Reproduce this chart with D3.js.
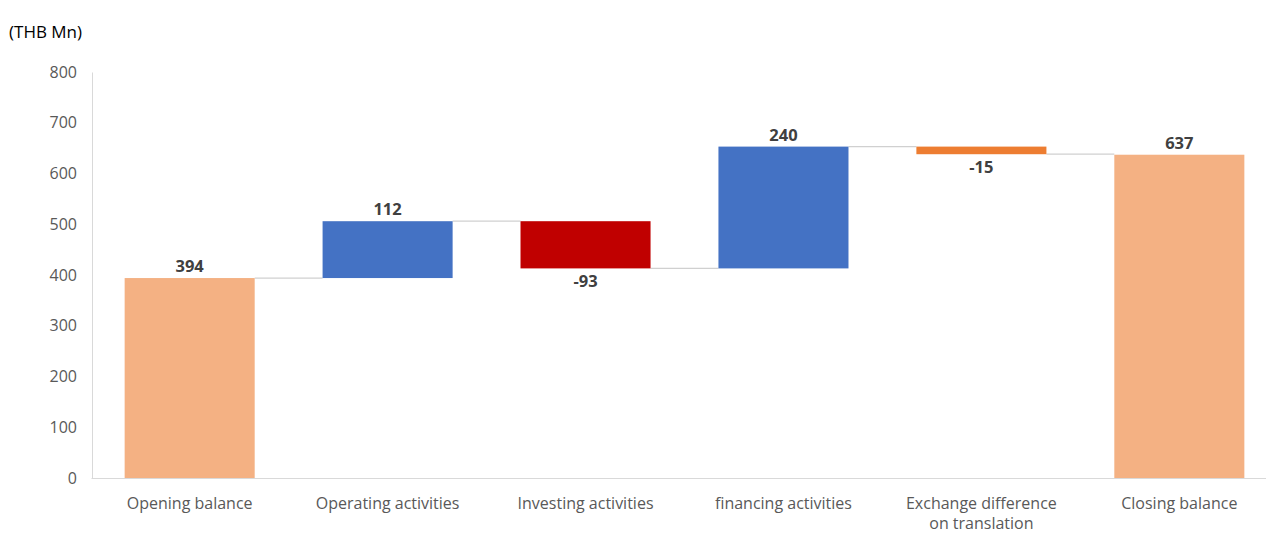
<!DOCTYPE html>
<html>
<head>
<meta charset="utf-8">
<script src="https://cdn.jsdelivr.net/npm/d3@7"></script>
<style>
  body { margin: 0; background: #fff; }
  text { font-family: "Open Sans", sans-serif; }
</style>
</head>
<body>
<div id="chart"></div>
<script>
// waterfall data (THB Mn)
const categories = ["Opening balance", "Operating activities", "Investing activities",
                    "financing activities", "Exchange difference\non translation", "Closing balance"];
const changes = [394, 112, -93, 240, -15, 637];
const kinds = ["total", "up", "down", "up", "down2", "total"];
const yTicks = [0, 100, 200, 300, 400, 500, 600, 700, 800];

const colors = { total: "#f4b183", up: "#4472c4", down: "#c00000", down2: "#ed7d31" };

const W = 1266, H = 536;

// build start/end for every step
let running = 0;
const bars = categories.map((c, i) => {
  let start, end;
  if (kinds[i] === "total") { start = 0; end = changes[i]; running = changes[i]; }
  else { start = running; end = running + changes[i]; running = end; }
  return { cat: c, value: changes[i], kind: kinds[i], start, end };
});

const svg = d3.select("#chart").append("svg")
  .attr("width", W).attr("height", H);

const x = d3.scaleBand().domain(categories).range([91, 1278]).paddingInner(0.343).paddingOuter(0.17);
const y = d3.scaleLinear().domain([0, 800]).range([478, 72]);

svg.append("text")
  .attr("x", 9).attr("y", 38)
  .attr("font-size", 17).attr("fill", "#000")
  .text("(THB Mn)");

// y axis
const yAxis = svg.append("g")
  .attr("transform", "translate(92,0)")
  .call(d3.axisLeft(y).tickValues(yTicks).tickSize(0).tickPadding(15));
yAxis.select(".domain").attr("stroke", "#d9d9d9");
yAxis.selectAll("text").attr("font-size", 16).attr("fill", "#595959");

// x axis
const xAxis = svg.append("g")
  .attr("transform", "translate(0,478)")
  .call(d3.axisBottom(x).tickSize(0).tickFormat(""));
xAxis.select(".domain").attr("stroke", "#d9d9d9");

// category labels (two-line support)
const lbl = svg.append("g").selectAll("text").data(bars).join("text")
  .attr("x", d => x(d.cat) + x.bandwidth() / 2)
  .attr("y", 509)
  .attr("text-anchor", "middle")
  .attr("font-size", 16).attr("fill", "#595959");
lbl.selectAll("tspan").data(d => d.cat.split("\n")).join("tspan")
  .attr("x", function () { return d3.select(this.parentNode).attr("x"); })
  .attr("dy", (d, i) => i === 0 ? 0 : 20)
  .text(d => d);

// connectors
svg.append("g").selectAll("line").data(bars.slice(0, -1)).join("line")
  .attr("x1", d => x(d.cat) + x.bandwidth())
  .attr("x2", (d, i) => x(bars[i + 1].cat))
  .attr("y1", d => y(d.end)).attr("y2", d => y(d.end))
  .attr("stroke", "#d0d0d0").attr("stroke-width", 1.2);

// bars
svg.append("g").selectAll("rect").data(bars).join("rect")
  .attr("x", d => x(d.cat))
  .attr("width", x.bandwidth())
  .attr("y", d => y(Math.max(d.start, d.end)))
  .attr("height", d => Math.abs(y(d.start) - y(d.end)))
  .attr("fill", d => colors[d.kind]);

// value labels
svg.append("g").selectAll("text").data(bars).join("text")
  .attr("x", d => x(d.cat) + x.bandwidth() / 2)
  .attr("y", d => d.value < 0 ? y(d.end) + 19 : y(d.end) - 6)
  .attr("text-anchor", "middle")
  .attr("font-size", 16.5).attr("font-weight", "bold").attr("fill", "#404040")
  .text(d => d.value);
</script>
</body>
</html>
